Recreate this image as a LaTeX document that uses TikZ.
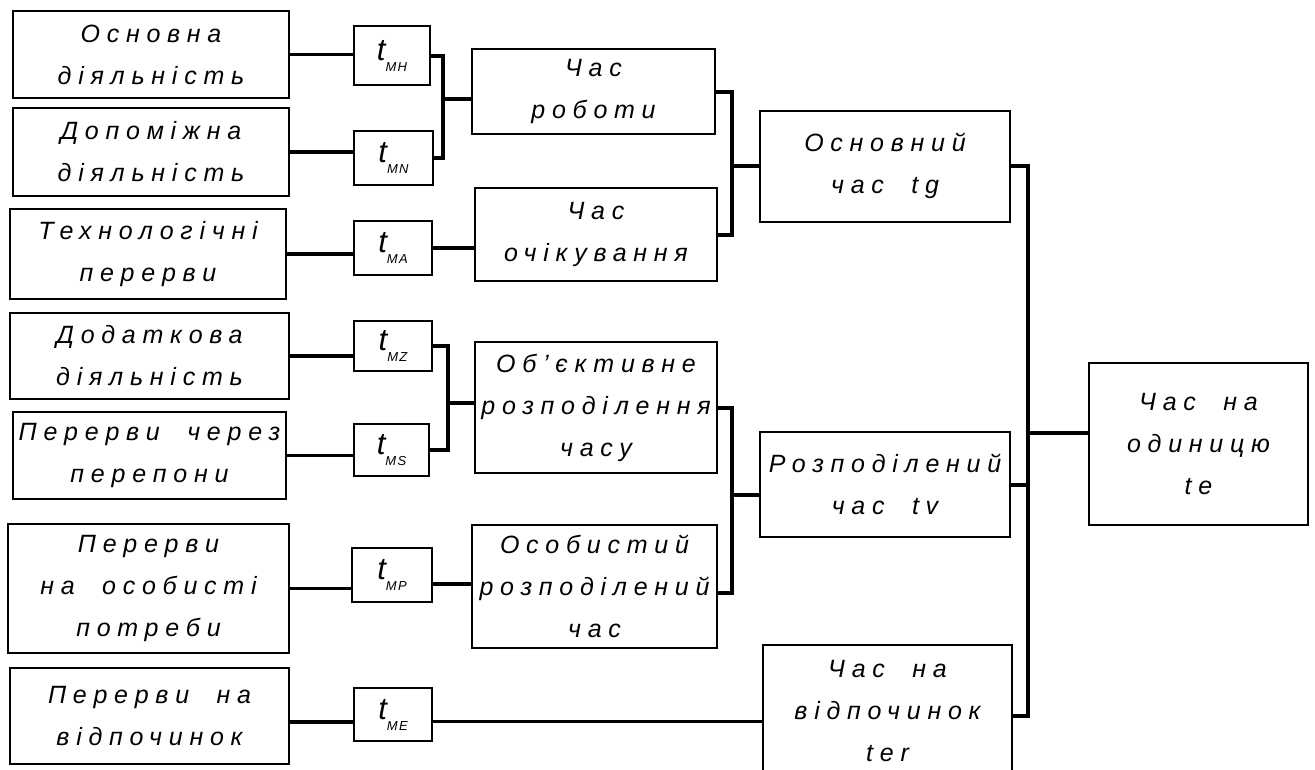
\documentclass[tikz,border=0pt]{standalone}
\usepackage{fontspec}
\setmainfont{Liberation Sans}
\newfontfamily\gost{Liberation Sans}[LetterSpace=27,WordSpace=2]
\newfontfamily\gostt{Liberation Sans}[LetterSpace=10]
\newcommand\gostfont{\gost\itshape\fontsize{25}{42}\selectfont}
\newcommand\tlab[1]{{\gostt\itshape\fontsize{31}{31}\selectfont t}{\gostt\itshape\fontsize{13}{13}\selectfont\raisebox{-11pt}{#1}}}
\begin{document}
\begin{tikzpicture}[x=1pt,y=-1pt,
  box/.style={draw, line width=2pt, inner sep=0pt, align=center, font=\gostfont},
  tbox/.style={draw, line width=2pt, inner sep=0pt},
  conn/.style={line width=3.5pt},
  fork/.style={line width=4pt, line join=miter}]
\useasboundingbox (0,0) rectangle (1315,769);
% left column
\node[box, minimum width=276, minimum height=87] (b1) at (151,54.5) {Основна\\діяльність};
\node[box, minimum width=276, minimum height=88] (b2) at (151,152) {Допоміжна\\діяльність};
\node[box, minimum width=276, minimum height=90] (b3) at (148,254) {Технологічні\\перерви};
\node[box, minimum width=279, minimum height=86] (b4) at (149.5,356) {Додаткова\\діяльність};
\node[box, minimum width=273, minimum height=87] (b5) at (149.5,455.5) {Перерви через\\перепони};
\node[box, minimum width=281, minimum height=129] (b6) at (148.5,588.5) {Перерви\\на особисті\\потреби};
\node[box, minimum width=279, minimum height=96] (b7) at (149.5,716) {Перерви на\\відпочинок};
% t boxes
\node[tbox, minimum width=76, minimum height=59] (tmh) at (392,55.5) {\tlab{MH}};
\node[tbox, minimum width=79, minimum height=54] (tmn) at (393.5,158) {\tlab{MN}};
\node[tbox, minimum width=78, minimum height=54] (tma) at (393,248) {\tlab{MA}};
\node[tbox, minimum width=78, minimum height=50] (tmz) at (393,346) {\tlab{MZ}};
\node[tbox, minimum width=75, minimum height=52] (tms) at (391.5,450) {\tlab{MS}};
\node[tbox, minimum width=80, minimum height=54] (tmp) at (392,575) {\tlab{MP}};
\node[tbox, minimum width=78, minimum height=53] (tme) at (393,714.5) {\tlab{ME}};
% second column
\node[box, minimum width=243, minimum height=85] (rob) at (593.5,91.5) {Час\\роботи};
\node[box, minimum width=242, minimum height=93] (och) at (596,234.5) {Час\\очікування};
\node[box, minimum width=242, minimum height=131] (obj) at (596,407.5) {Об’єктивне\\розподілення\\часу};
\node[box, minimum width=245, minimum height=123] (osob) at (594.5,586.5) {Особистий\\розподілений\\час};
% third column
\node[box, minimum width=250, minimum height=111] (osn) at (885,166) {Основний\\час tg};
\node[box, minimum width=250, minimum height=105] (rozp) at (885,484.5) {Розподілений\\час tv};
\node[box, minimum width=249, minimum height=132] (vid) at (887.5,711) {Час на\\відпочинок\\ter};
% final
\node[box, minimum width=219, minimum height=162] (fin) at (1198.5,444) {Час на\\одиницю\\te};
% junctions
\coordinate (j1) at (443,99);
\coordinate (j2) at (448,403);
\coordinate (j3) at (732,166);
\coordinate (j4) at (732,495);
\coordinate (j5) at (1028,433);
% left to t
\draw[conn] (b1.east) -- (b1.east -| tmh.west);
\draw[conn] (b2.east) -- (b2.east -| tmn.west);
\draw[conn] (b3.east) -- (b3.east -| tma.west);
\draw[conn] (b4.east) -- (b4.east -| tmz.west);
\draw[conn] (b5.east) -- (b5.east -| tms.west);
\draw[conn] (b6.east) -- (b6.east -| tmp.west);
\draw[conn] ([yshift=-6pt]b7.east) -- ([yshift=-6pt]b7.east -| tme.west);
% t to second column
\draw[conn] (tma.east) -- (tma.east -| och.west);
\draw[conn] ([yshift=-9pt]tmp.east) -- ([yshift=-9pt]tmp.east -| osob.west);
\draw[conn] ([yshift=-7pt]tme.east) -- ([yshift=-7pt]tme.east -| vid.west);
% forks
\draw[fork] (tmh.east) -| (j1) |- (tmn.east);
\draw[fork] (j1) -- (j1 -| rob.west);
\draw[fork] (tmz.east) -| (j2) |- (tms.east);
\draw[fork] (j2) -- (j2 -| obj.west);
\draw[fork] (rob.east) -| (j3) |- (och.east);
\draw[fork] (j3) -- (j3 -| osn.west);
\draw[fork] (obj.east) -| (j4) |- ([yshift=-6.5pt]osob.east);
\draw[fork] (j4) -- (j4 -| rozp.west);
\draw[fork] (osn.east) -- (osn.east -| j5) -- ([yshift=-5pt]vid.east -| j5) -- ([yshift=-5pt]vid.east);
\draw[fork] (rozp.east) -- (rozp.east -| j5);
\draw[fork] (j5) -- (j5 -| fin.west);
\end{tikzpicture}
\end{document}
